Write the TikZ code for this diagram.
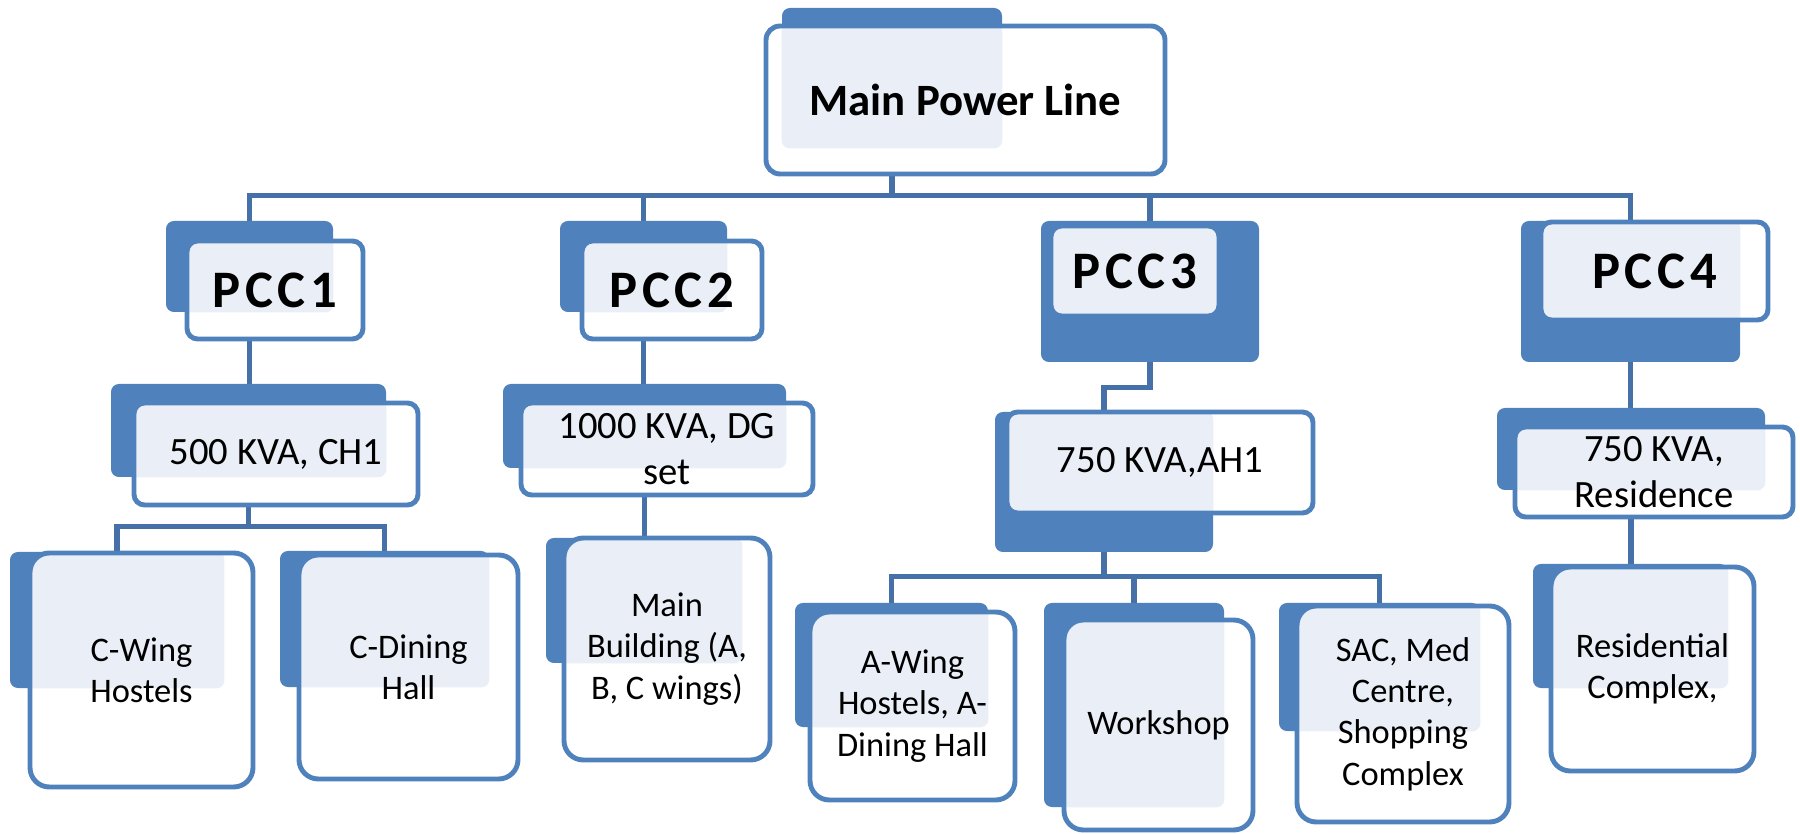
\documentclass[tikz,border=0pt]{standalone}
\usepackage{fontspec}
\setmainfont{Carlito}
\usepackage{xcolor}
\usetikzlibrary{backgrounds}
\definecolor{boxblue}{HTML}{4F81BD}
\definecolor{paleblue}{HTML}{EAEFF7}
\definecolor{lineblue}{HTML}{4671A8}

\begin{document}
\begin{tikzpicture}[x=0.02cm, y=-0.02cm,
  area/.style args={(#1,#2) to (#3,#4)}{at={({(#1+#3)/2},{(#2+#4)/2})}, minimum width={(#3-#1)*0.02cm}, minimum height={(#4-#2)*0.02cm}},
  backbox/.style={fill=boxblue, rounded corners=4.5pt, inner sep=0pt},
  frontbox/.style={fill=white, draw=boxblue, line width=2.8pt, rounded corners=6pt, inner sep=0pt, align=center},
  leafbox/.style={frontbox, rounded corners=11pt},
  lightpart/.style={path picture={\fill[paleblue, rounded corners=4.5pt] (#1.south west) rectangle (#1.north east);}},
  toptext/.style={font=\fontsize{25.5}{30}\selectfont\bfseries},
  pcctext/.style={font=\fontsize{30}{36}\selectfont\bfseries\addfontfeature{LetterSpace=9}},
  kvatext/.style={font=\fontsize{22}{26}\selectfont},
  leaftext/.style={font=\fontsize{19.6}{23.5}\selectfont},
  link/.style={draw=lineblue, line width=3pt}]
  \useasboundingbox (0,0) rectangle (1800,834);

  \node[backbox, area={(782,8) to (1002,148)}] (mainb) {};
  \node[frontbox, toptext, lightpart=mainb, rounded corners=8pt, area={(766,26) to (1165,174)}] (main) {Main Power Line};

  \node[backbox, area={(166,221) to (333,312)}] (pcc1b) {};
  \node[frontbox, pcctext, lightpart=pcc1b, area={(187,241) to (363,339)}] (pcc1) {PCC1};
  \node[backbox, area={(560,221) to (727,312)}] (pcc2b) {};
  \node[frontbox, pcctext, lightpart=pcc2b, area={(582,241) to (762,339)}] (pcc2) {PCC2};
  \node[backbox, area={(1041,221) to (1259,362)}] (pcc3b) {};
  \node[frontbox, pcctext, lightpart=pcc3b, area={(1051,226) to (1219,316)}] (pcc3) {PCC3};
  \node[backbox, area={(1521,221) to (1740,362)}] (pcc4b) {};
  \node[frontbox, pcctext, lightpart=pcc4b, area={(1541,222) to (1768,320)}] (pcc4) {PCC4};

  \node[backbox, area={(111,384) to (386,477)}] (kva1b) {};
  \node[frontbox, kvatext, lightpart=kva1b, area={(134,403) to (418,505)}] (kva1) {500 KVA, CH1};
  \node[backbox, area={(503,384) to (786,468)}] (kva2b) {};
  \node[frontbox, kvatext, lightpart=kva2b, area={(521,403) to (813,495)}] (kva2) {1000 KVA, DG\\set};
  \node[backbox, area={(995,412) to (1213,552)}] (kva3b) {};
  \node[frontbox, kvatext, lightpart=kva3b, area={(1007,412) to (1313,513)}] (kva3) {750 KVA,AH1};
  \node[backbox, area={(1497,408) to (1765,490)}] (kva4b) {};
  \node[frontbox, kvatext, lightpart=kva4b, area={(1515,427) to (1793,517)}] (kva4) {750 KVA,\\Residence};

  \node[backbox, area={(10,552) to (224,688)}] (cwingb) {};
  \node[leafbox, leaftext, lightpart=cwingb, area={(30,553) to (253,787)}] (cwing) {C-Wing\\Hostels};
  \node[backbox, area={(280,551) to (489,687)}] (cdineb) {};
  \node[leafbox, leaftext, lightpart=cdineb, area={(299,555) to (518,779)}] (cdine) {C-Dining\\Hall};
  \node[backbox, area={(546,538) to (742,663)}] (mbldgb) {};
  \node[leafbox, leaftext, lightpart=mbldgb, area={(564,538) to (770,760)}] (mbldg) {Main\\Building (A,\\B, C wings)};
  \node[backbox, area={(795,603) to (988,727)}] (awingb) {};
  \node[leafbox, leaftext, lightpart=awingb, area={(810,612) to (1015,800)}] (awing) {A-Wing\\Hostels, A-\\Dining Hall};
  \node[backbox, area={(1044,603) to (1224,807)}] (wshopb) {};
  \node[leafbox, leaftext, lightpart=wshopb, area={(1064,620) to (1253,830)}] (wshop) {Workshop};
  \node[backbox, area={(1279,603) to (1480,731)}] (sacb) {};
  \node[leafbox, leaftext, lightpart=sacb, area={(1297,606) to (1509,822)}] (sac) {SAC, Med\\Centre,\\Shopping\\Complex};
  \node[backbox, area={(1533,564) to (1728,688)}] (residb) {};
  \node[leafbox, leaftext, lightpart=residb, area={(1551,567) to (1754,771)}] (resid) {Residential\\Complex,};

  \begin{scope}[on background layer]
    \foreach \k in {pcc1b, pcc2b, pcc3b, pcc4b}
      \draw[link] (mainb.south) -- ++(0,47) -| (\k.north);
    \draw[link] (pcc1b.south) -- (pcc1b.south |- kva1b.north);
    \draw[link] (pcc2b.south) -- (pcc2b.south |- kva2b.north);
    \draw[link] (pcc3b.south) -- ++(0,25) -| (kva3b.north);
    \draw[link] (pcc4b.south) -- (pcc4b.south |- kva4b.north);
    \foreach \k in {cwingb, cdineb}
      \draw[link] (kva1b.south) -- ++(0,49) -| (\k.north);
    \draw[link] (kva2b.south) -- (kva2b.south |- mbldgb.north);
    \foreach \k in {awingb, wshopb, sacb}
      \draw[link] (kva3b.south) -- ++(0,24) -| (\k.north);
    \draw[link] (kva4b.south) -- (kva4b.south |- residb.north);
  \end{scope}
\end{tikzpicture}
\end{document}
